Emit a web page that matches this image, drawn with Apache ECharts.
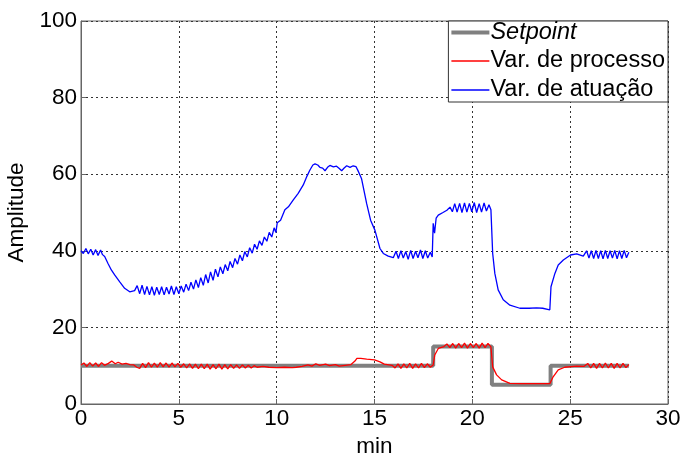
<!DOCTYPE html>
<html>
<head>
<meta charset="utf-8">
<script src="https://cdn.jsdelivr.net/npm/echarts@6/dist/echarts.min.js"></script>
<style>
  html, body { margin: 0; padding: 0; background: #fff; }
  #chart { width: 683px; height: 457px; }
</style>
</head>
<body>
<div id="chart"></div>
<script>
// setpoint steps (min, amplitude)
const setpoint = [[0, 10], [18, 10], [18, 15], [21, 15], [21, 5], [24, 5], [24, 10], [28, 10]]

// process variable
const processo = [
  [0, 10.2], [0.15, 10.7], [0.3, 9.8], [0.45, 10.8], [0.6, 9.9], [0.75, 10.7], [0.9, 9.8], [1.05, 10.8],
  [1.2, 10.1], [1.4, 10.6], [1.57, 11.2], [1.75, 10.5], [1.9, 10.9], [2.1, 10.4], [2.3, 10.6], [2.5, 10.3],
  [2.7, 10.2], [2.85, 9.6], [3.0, 9.3], [3.15, 10.6], [3.3, 9.5], [3.45, 10.8], [3.6, 9.6], [3.75, 10.7],
  [3.9, 9.6], [4.05, 10.8], [4.2, 9.7], [4.35, 10.7], [4.5, 9.6], [4.65, 10.7], [4.8, 9.7], [4.95, 10.6],
  [5.1, 9.6], [5.25, 10.5], [5.4, 9.4], [5.55, 10.5], [5.7, 9.3], [5.85, 10.4], [6.0, 9.2], [6.15, 10.4],
  [6.3, 9.2], [6.45, 10.4], [6.6, 9.1], [6.75, 10.3], [6.9, 9.2], [7.05, 10.4], [7.2, 9.1], [7.35, 10.3],
  [7.5, 9.2], [7.65, 10.3], [7.8, 9.3], [7.95, 10.2], [8.1, 9.3], [8.25, 10.2], [8.4, 9.4], [8.55, 10.1],
  [8.7, 9.4], [8.85, 10.0], [9.0, 9.6], [9.3, 9.8], [9.6, 9.6], [10.0, 9.5], [10.4, 9.6], [10.8, 9.5],
  [11.0, 9.6], [11.3, 9.8], [11.6, 10.2], [11.8, 9.9], [12.0, 10.5], [12.2, 10.1], [12.5, 10.4], [12.7, 10.0],
  [13.0, 10.3], [13.2, 9.9], [13.5, 10.1], [13.8, 10.3], [14.0, 11.2], [14.1, 11.9], [14.3, 11.9], [14.6, 11.7],
  [15.0, 11.5], [15.28, 11.0], [15.5, 10.4], [15.9, 10.1], [16.05, 9.4], [16.2, 10.5], [16.35, 9.3], [16.5, 10.5],
  [16.65, 9.4], [16.8, 10.6], [16.95, 9.3], [17.1, 10.5], [17.25, 9.4], [17.4, 10.6], [17.55, 9.5], [17.7, 10.5],
  [17.85, 9.6], [18.0, 10.2], [18.08, 12.8], [18.26, 14.5], [18.55, 15.0], [18.7, 15.7], [18.85, 14.7], [19.0, 15.8],
  [19.15, 14.6], [19.3, 15.8], [19.45, 14.7], [19.6, 15.9], [19.75, 14.6], [19.9, 15.8], [20.05, 14.7], [20.2, 15.8],
  [20.35, 14.6], [20.5, 15.9], [20.65, 14.7], [20.8, 15.8], [20.95, 14.9], [21.04, 9.7], [21.24, 7.6], [21.5, 6.3],
  [21.92, 5.4], [22.5, 5.3], [23.0, 5.3], [23.5, 5.3], [23.96, 5.3], [24.13, 7.1], [24.39, 8.9], [24.72, 9.6],
  [25.33, 9.9], [25.7, 9.8], [25.9, 10.6], [26.05, 9.4], [26.2, 10.6], [26.35, 9.3], [26.5, 10.6], [26.65, 9.4],
  [26.8, 10.7], [26.95, 9.4], [27.1, 10.6], [27.25, 9.3], [27.4, 10.6], [27.55, 9.4], [27.7, 10.6], [27.85, 9.5],
  [28.0, 10.3]
]

// actuation variable
const atuacao = [
  [0, 40], [0.12, 39.3], [0.25, 40.6], [0.37, 39.2], [0.5, 40.4], [0.62, 38.9], [0.75, 40.3], [0.87, 38.8],
  [1.0, 40.2], [1.1, 39.0], [1.21, 38.5], [1.38, 36.7], [1.55, 35], [1.72, 33.7], [1.98, 31.9], [2.23, 30.2],
  [2.49, 29.3], [2.74, 29.6], [2.87, 30.9], [3.0, 28.8], [3.12, 31.0], [3.25, 28.6], [3.37, 30.7], [3.5, 28.5],
  [3.62, 30.6], [3.75, 28.4], [3.87, 30.5], [4.0, 28.6], [4.12, 30.6], [4.25, 28.5], [4.37, 30.5], [4.5, 28.7],
  [4.62, 30.8], [4.75, 28.6], [4.87, 30.6], [5.0, 28.8], [5.12, 30.8], [5.25, 29.2], [5.37, 31.3], [5.5, 29.6],
  [5.62, 31.8], [5.75, 30.0], [5.87, 32.4], [6.0, 30.4], [6.12, 33.0], [6.25, 31.0], [6.37, 33.8], [6.5, 31.6],
  [6.62, 34.5], [6.75, 32.3], [6.87, 35.2], [7.0, 33.2], [7.12, 35.8], [7.25, 34.0], [7.37, 36.4], [7.5, 34.8],
  [7.62, 37.2], [7.75, 35.6], [7.87, 38.0], [8.0, 36.5], [8.12, 38.9], [8.25, 37.4], [8.37, 39.8], [8.5, 38.4],
  [8.62, 40.8], [8.75, 39.4], [8.87, 41.7], [9.0, 40.4], [9.12, 42.6], [9.25, 41.4], [9.37, 43.6], [9.5, 42.5],
  [9.62, 44.8], [9.75, 43.6], [9.87, 46.0], [9.96, 44.8], [10.03, 47.3], [10.2, 48.0], [10.42, 50.7], [10.6, 51.5],
  [10.85, 53.3], [11.1, 55.0], [11.36, 57.2], [11.55, 59.5], [11.7, 61.1], [11.85, 62.4], [11.96, 62.7], [12.1, 62.4],
  [12.21, 61.8], [12.35, 61.6], [12.47, 60.9], [12.6, 61.8], [12.72, 62.3], [12.9, 61.9], [13.06, 62.1], [13.2, 61.5],
  [13.32, 60.9], [13.45, 61.6], [13.58, 62.2], [13.75, 61.8], [13.91, 62.2], [14.05, 62.0], [14.15, 61.0], [14.34, 58.8],
  [14.6, 52.3], [14.8, 48.0], [15.02, 45.4], [15.28, 40.6], [15.45, 39.3], [15.7, 38.6], [15.96, 38.2], [16.1, 39.9],
  [16.22, 38.0], [16.35, 40.0], [16.47, 38.1], [16.6, 39.8], [16.72, 37.8], [16.85, 40.1], [16.97, 38.0], [17.1, 39.9],
  [17.22, 38.2], [17.35, 40.2], [17.47, 38.0], [17.6, 40.0], [17.72, 38.1], [17.85, 39.6], [17.95, 38.4], [18.0, 47.2],
  [18.07, 44.6], [18.15, 48.5], [18.26, 49.3], [18.5, 50.0], [18.7, 50.6], [18.86, 51.4], [18.98, 50.2], [19.1, 52.3],
  [19.22, 50.1], [19.35, 52.4], [19.47, 50.0], [19.6, 52.5], [19.72, 50.1], [19.85, 52.4], [19.97, 50.2], [20.1, 52.6],
  [20.22, 50.0], [20.35, 52.3], [20.47, 50.1], [20.6, 52.5], [20.72, 50.4], [20.85, 52.0], [20.95, 50.7], [21.04, 39.3],
  [21.15, 34.1], [21.32, 29.8], [21.58, 27.2], [21.92, 25.8], [22.43, 25.0], [22.9, 25.0], [23.28, 25.1], [23.6, 25.0],
  [23.96, 24.6], [24.02, 30.6], [24.22, 34.1], [24.39, 36.3], [24.65, 37.6], [25.02, 38.9], [25.33, 39.2], [25.67, 38.6],
  [25.84, 40.0], [25.96, 38.1], [26.08, 40.0], [26.2, 38.0], [26.32, 40.1], [26.44, 38.0], [26.56, 40.0], [26.68, 37.9],
  [26.8, 40.1], [26.92, 38.0], [27.04, 40.0], [27.16, 38.1], [27.28, 40.1], [27.4, 37.9], [27.52, 40.0], [27.64, 38.0],
  [27.76, 40.1], [27.88, 38.2], [28.0, 39.6]
]

const font = 'Arial, "Liberation Sans", sans-serif'
const fs = 22.5
const legendFs = 23.5

const myChart = echarts.init(document.getElementById('chart'))
const option = {
  animation: false,
  textStyle: { fontFamily: font },
  grid: {
    left: 81,
    right: 15,
    top: 21,
    bottom: 53,
    containLabel: false,
    outerBoundsMode: 'none',
    show: true,
    borderColor: '#666',
    borderWidth: 1
  },
  legend: {
    orient: 'vertical',
    right: 15,
    top: 21,
    itemWidth: 38,
    itemHeight: 14,
    itemGap: 5,
    padding: [0, 3, 0, 3],
    backgroundColor: '#fff',
    borderColor: '#333',
    borderWidth: 1,
    borderRadius: 0,
    textStyle: {
      fontFamily: font,
      fontSize: legendFs,
      color: '#000',
      padding: [0, 0, 0, -4],
      rich: {
        it: { fontStyle: 'italic', fontSize: legendFs, fontFamily: font, color: '#000' }
      }
    },
    formatter: name => name === 'Setpoint' ? '{it|Setpoint}' : name,
    data: [
      { name: 'Setpoint', icon: 'path://M0,0H40V4H0Z' },
      { name: 'Var. de processo', icon: 'path://M0,0H40V1.4H0Z' },
      { name: 'Var. de atuação', icon: 'path://M0,0H40V1.4H0Z' }
    ]
  },
  xAxis: {
    type: 'value',
    min: 0,
    max: 30,
    interval: 5,
    name: 'min',
    nameLocation: 'middle',
    nameGap: 22,
    nameTextStyle: { fontSize: fs, color: '#000', fontFamily: font },
    axisLine: { show: true, lineStyle: { color: '#666' } },
    axisTick: { show: true, inside: true, length: 5, lineStyle: { color: '#666' } },
    axisLabel: { fontSize: fs, color: '#000', margin: 3, fontFamily: font },
    splitLine: { show: true, lineStyle: { color: '#333', type: [2, 3], width: 1 } }
  },
  yAxis: {
    type: 'value',
    min: 0,
    max: 100,
    interval: 20,
    name: 'Amplitude',
    nameLocation: 'middle',
    nameGap: 48,
    nameTextStyle: { fontSize: fs, color: '#000', fontFamily: font },
    axisLine: { show: true, lineStyle: { color: '#666' } },
    axisTick: { show: true, inside: true, length: 5, lineStyle: { color: '#666' } },
    axisLabel: { fontSize: fs, color: '#000', margin: 4, fontFamily: font },
    splitLine: { show: true, lineStyle: { color: '#333', type: [2, 3], width: 1 } }
  },
  series: [
    {
      name: 'Setpoint',
      type: 'line',
      data: setpoint,
      showSymbol: false,
      symbol: 'none',
      itemStyle: { color: '#808080' },
      lineStyle: { color: '#808080', width: 4 }
    },
    {
      name: 'Var. de processo',
      type: 'line',
      data: processo,
      showSymbol: false,
      symbol: 'none',
      itemStyle: { color: '#ff0000' },
      lineStyle: { color: '#ff0000', width: 1.3 }
    },
    {
      name: 'Var. de atuação',
      type: 'line',
      data: atuacao,
      showSymbol: false,
      symbol: 'none',
      itemStyle: { color: '#0000ff' },
      lineStyle: { color: '#0000ff', width: 1.3 }
    }
  ]
}
myChart.setOption(option)
</script>
</body>
</html>
